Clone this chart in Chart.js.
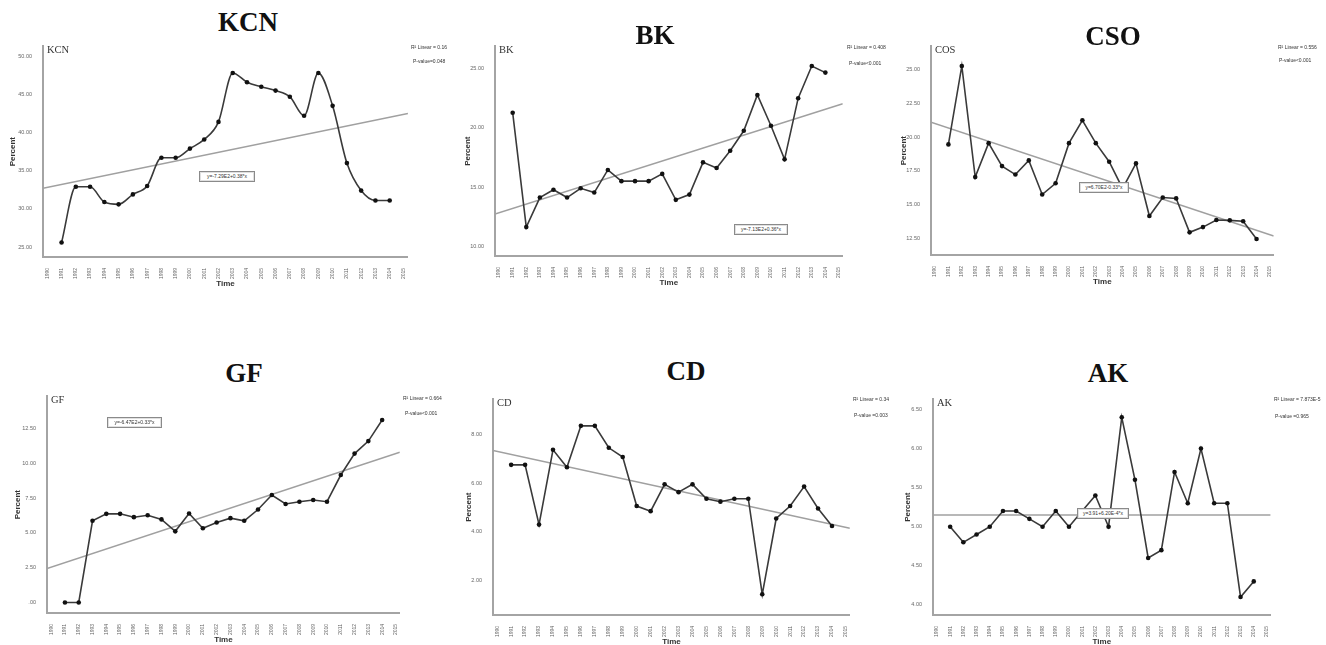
<!DOCTYPE html>
<html>
<head>
<meta charset="utf-8">
<script src="https://cdn.jsdelivr.net/npm/chart.js@4.4.0/dist/chart.umd.min.js"></script>
<style>
  body { margin: 0; background: #fff; width: 1326px; height: 645px; position: relative; overflow: hidden; font-family: "Liberation Sans", Arial, sans-serif; }
  canvas { position: absolute; }
  .ttl { position: absolute; font: bold 27px "Liberation Serif", serif; line-height: 1; transform: translate(-50%, -50%); color: #111; white-space: nowrap; }
  .lbl { position: absolute; font: 10.5px "Liberation Serif", serif; line-height: 1; color: #333; }
  .r2 { position: absolute; font-size: 5px; line-height: 1; color: #333; white-space: nowrap; }
  .eq { position: absolute; font-size: 5px; line-height: 9px; color: #333; white-space: nowrap; text-align: center;
        border: 1px solid #8a8a8a; box-shadow: inset 0 0 0 1px #e0e0e0; background: #fff; box-sizing: border-box; }
</style>
</head>
<body>
<script>
// years on the x axis, points run 1991..2014
var years = [1990, 1991, 1992, 1993, 1994, 1995, 1996, 1997, 1998, 1999, 2000, 2001, 2002,
             2003, 2004, 2005, 2006, 2007, 2008, 2009, 2010, 2011, 2012, 2013, 2014, 2015];
var pointYears = years.slice(1, 25);

var kcnValues = [25.6, 32.9, 32.9, 30.9, 30.6, 31.9, 33.0, 36.7, 36.7, 37.9, 39.1, 41.4,
                 47.8, 46.6, 46.0, 45.5, 44.7, 42.2, 47.8, 43.5, 36.0, 32.4, 31.1, 31.1];
var bkValues = [21.27, 11.66, 14.14, 14.8, 14.14, 14.92, 14.56, 16.46, 15.52, 15.52, 15.52, 16.13,
                13.95, 14.39, 17.1, 16.63, 18.07, 19.75, 22.76, 20.17, 17.35, 22.49, 25.19, 24.64];
var csoValues = [19.47, 25.29, 17.04, 19.56, 17.86, 17.23, 18.28, 15.75, 16.58, 19.56, 21.26, 19.56,
                 18.18, 16.2, 18.06, 14.15, 15.53, 15.46, 12.94, 13.33, 13.86, 13.83, 13.76, 12.45];
var gfValues = [0, 0, 5.87, 6.37, 6.37, 6.13, 6.27, 5.97, 5.11, 6.39, 5.33, 5.75,
                6.06, 5.87, 6.68, 7.72, 7.08, 7.24, 7.36, 7.24, 9.16, 10.7, 11.6, 13.12];
var cdValues = [6.75, 6.75, 4.3, 7.37, 6.65, 8.35, 8.35, 7.45, 7.07, 5.06, 4.85, 5.95,
                5.63, 5.95, 5.36, 5.24, 5.36, 5.36, 1.44, 4.55, 5.06, 5.86, 4.96, 4.24];
var akValues = [5.0, 4.8, 4.9, 5.0, 5.2, 5.2, 5.1, 5.0, 5.2, 5.0, 5.2, 5.4,
                5.0, 6.4, 5.6, 4.6, 4.7, 5.7, 5.3, 6.0, 5.3, 5.3, 4.1, 4.3];

// fitted line value at left and right edge of the plot
var kcnTrend = [32.7, 42.5];
var bkTrend = [12.76, 22.02];
var csoTrend = [21.12, 12.67];
var gfTrend = [2.44, 10.8];
var cdTrend = [7.34, 4.15];
var akTrend = [5.15, 5.15];

var titles = ["KCN", "BK", "CSO", "GF", "CD", "AK"];
var innerLabels = ["KCN", "BK", "COS", "GF", "CD", "AK"];
var r2Labels = ["R\u00b2 Linear = 0.16", "R\u00b2 Linear = 0.408", "R\u00b2 Linear = 0.556",
                "R\u00b2 Linear = 0.664", "R\u00b2 Linear = 0.34", "R\u00b2 Linear = 7.873E-5"];
var pLabels = ["P-value=0.048", "P-value<0.001", "P-value<0.001",
               "P-value<0.001", "P-value =0.003", "P-value =0.965"];
var eqLabels = ["y=-7.29E2+0.38*x", "y=-7.13E2+0.36*x", "y=6.70E2-0.33*x",
                "y=-6.47E2+0.33*x", "", "y=3.91+6.20E-4*x"];

var xMin = 1989.7, xMax = 2015.28;

var panels = [
  { values: kcnValues, trend: kcnTrend, yMin: 23.7, yMax: 51.3, step: 5, smooth: true,
    box: [43, 43, 411, 257], yOff: 30, title: [248, 22], r2: [411, 45, 413, 59], eq: [199, 171, 56] },
  { values: bkValues, trend: bkTrend, yMin: 9.23, yMax: 26.85, step: 5, smooth: false,
    box: [495, 43, 846, 256], yOff: 27, title: [655, 35], r2: [847, 45, 849, 61], eq: [734, 224, 54] },
  { values: csoValues, trend: csoTrend, yMin: 11.26, yMax: 26.75, step: 2.5, smooth: false,
    box: [931, 43, 1277, 255], yOff: 27, title: [1113, 36], r2: [1278, 45, 1279, 58], eq: [1079, 182, 50] },
  { values: gfValues, trend: gfTrend, yMin: -0.76, yMax: 14.82, step: 2.5, smooth: false,
    box: [47, 393, 403, 613], yOff: 29, title: [244, 373], r2: [403, 396, 405, 411], eq: [107, 417, 55] },
  { values: cdValues, trend: cdTrend, yMin: 0.59, yMax: 9.44, step: 2, smooth: false,
    box: [493, 396, 853, 615], yOff: 24, title: [686, 371], r2: [853, 397, 854, 413], eq: null },
  { values: akValues, trend: akTrend, yMin: 3.87, yMax: 6.63, step: 0.5, smooth: false,
    box: [933, 396, 1274, 615], yOff: 25, title: [1108, 373], r2: [1274, 397, 1275, 414], eq: [1077, 508, 52] }
];

function addText(cls, text, x, y, w) {
  var d = document.createElement("div");
  d.className = cls;
  d.textContent = text;
  d.style.left = x + "px";
  d.style.top = y + "px";
  if (w) { d.style.width = w + "px"; d.style.height = "11px"; }
  document.body.appendChild(d);
}

panels.forEach(function (p, k) {
  var yW = p.yOff + 9, xH = 36, padTop = 3, padRight = 2;
  var cv = document.createElement("canvas");
  cv.width = p.box[2] - p.box[0] + yW + padRight;
  cv.height = p.box[3] - p.box[1] + padTop + xH;
  cv.style.left = (p.box[0] - yW) + "px";
  cv.style.top = (p.box[1] - padTop) + "px";
  document.body.appendChild(cv);

  new Chart(cv, {
    type: "line",
    data: {
      datasets: [
        {
          data: p.values.map(function (v, i) { return { x: pointYears[i], y: v }; }),
          borderColor: "#3a3a3a",
          borderWidth: 1.6,
          pointRadius: 2.3,
          pointBackgroundColor: "#111",
          pointBorderWidth: 0,
          cubicInterpolationMode: p.smooth ? "monotone" : "default",
          tension: 0
        },
        {
          data: [{ x: xMin, y: p.trend[0] }, { x: xMax, y: p.trend[1] }],
          borderColor: "#a0a0a0",
          borderWidth: 1.4,
          pointRadius: 0
        }
      ]
    },
    options: {
      responsive: false,
      animation: false,
      devicePixelRatio: 1,
      layout: { padding: { top: padTop, right: padRight, left: 0, bottom: 0 } },
      plugins: { legend: { display: false }, tooltip: { enabled: false } },
      scales: {
        x: {
          type: "linear",
          min: xMin,
          max: xMax,
          grid: { display: false },
          border: { color: "#a4a4a4", width: 2 },
          ticks: {
            stepSize: 1, includeBounds: false, autoSkip: false,
            minRotation: 90, maxRotation: 90, padding: 3,
            font: { size: 5 }, color: "#666",
            callback: function (v) { return String(v); }
          },
          title: { display: true, text: "Time", font: { size: 8, weight: "bold" }, color: "#333", padding: { top: 0, bottom: 4 } },
          afterFit: function (s) { s.height = xH; }
        },
        y: {
          min: p.yMin,
          max: p.yMax,
          grid: { display: false },
          border: { color: "#a4a4a4", width: 2 },
          ticks: {
            stepSize: p.step, includeBounds: false, padding: 3,
            font: { size: 5.5 }, color: "#666",
            callback: function (v) { return v.toFixed(2).replace(/^0\./, "."); }
          },
          title: { display: true, text: "Percent", font: { size: 8, weight: "bold" }, color: "#333", padding: { top: 4, bottom: 0 } },
          afterFit: function (s) { s.width = yW; }
        }
      }
    }
  });

  addText("ttl", titles[k], p.title[0], p.title[1]);
  addText("lbl", innerLabels[k], p.box[0] + 4, p.box[1] + 2);
  addText("r2", r2Labels[k], p.r2[0], p.r2[1]);
  addText("r2", pLabels[k], p.r2[2], p.r2[3]);
  if (p.eq) addText("eq", eqLabels[k], p.eq[0], p.eq[1], p.eq[2]);
});
</script>
</body>
</html>
